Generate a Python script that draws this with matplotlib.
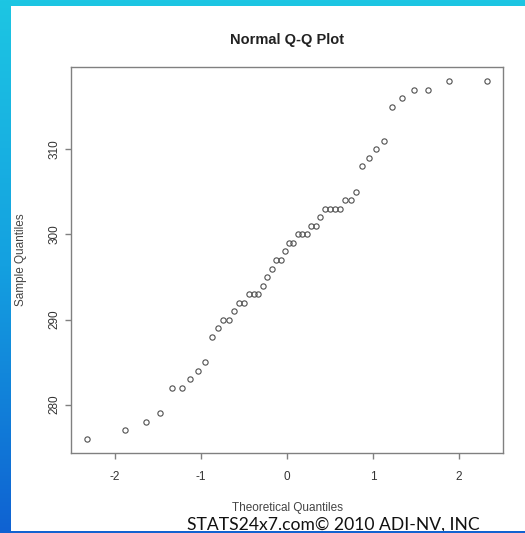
import numpy as np
import matplotlib.pyplot as plt
from matplotlib.colors import LinearSegmentedColormap
from matplotlib.patches import Rectangle
from statistics import NormalDist

# sorted sample values (n = 50)
sample = [276, 277, 278, 279, 282, 282, 283, 284, 285, 288,
          289, 290, 290, 291, 292, 292, 293, 293, 293, 294,
          295, 296, 297, 297, 298, 299, 299, 300, 300, 300,
          301, 301, 302, 303, 303, 303, 303, 304, 304, 305,
          308, 309, 310, 311, 315, 316, 317, 317, 318, 318]

x_ticks = [-2, -1, 0, 1, 2]
y_ticks = [280, 290, 300, 310]

W, H = 525, 533

# theoretical quantiles like R's qqnorm (ppoints with a = 0.5 for n > 10)
n = len(sample)
nd = NormalDist()
theo = [nd.inv_cdf((i + 0.5) / n) for i in range(n)]

fig = plt.figure(figsize=(W / 100, H / 100), dpi=100)

# ── slide background: blue gradient, white panel ──────────────────────────
bg = fig.add_axes([0, 0, 1, 1], zorder=-10)
cmap = LinearSegmentedColormap.from_list('slide', ['#1dc6e3', '#14a0e0', '#0f62d2'])
bg.imshow(np.linspace(0, 1, 256).reshape(-1, 1), aspect='auto', cmap=cmap,
          extent=[0, 1, 0, 1], origin='upper')
bg.add_patch(Rectangle((11 / W, 1 - 530.5 / H), (W - 11) / W, (530.5 - 6) / H,
                       facecolor='white', edgecolor='none'))
bg.set_xlim(0, 1)
bg.set_ylim(0, 1)
bg.axis('off')

# ── Q-Q plot ───────────────────────────────────────────────────────────────
ax = fig.add_axes([71 / W, 1 - 453 / H, 432 / W, 386 / H])
ax.plot(theo, sample, linestyle='none', marker='o', markersize=3.8,
        markerfacecolor='none', markeredgecolor='#505050', markeredgewidth=0.8)

span_x = theo[-1] - theo[0]
span_y = max(sample) - min(sample)
ax.set_xlim(theo[0] - 0.04 * span_x, theo[-1] + 0.04 * span_x)
ax.set_ylim(min(sample) - 0.04 * span_y, max(sample) + 0.04 * span_y)

ax.set_xticks(x_ticks)
ax.set_xticklabels([str(t) for t in x_ticks])
ax.set_yticks(y_ticks)
ax.set_yticklabels([str(t) for t in y_ticks], rotation=90, va='center')

for s in ax.spines.values():
    s.set_color('#808080')
    s.set_linewidth(1.0)
ax.tick_params(colors='#808080', labelcolor='#333333', labelsize=8.5, length=4.3,
               width=1.0)
ax.tick_params(axis='x', pad=9)
ax.tick_params(axis='y', pad=3)
for lab in ax.get_xticklabels() + ax.get_yticklabels():
    lab.set_family('Liberation Sans')

fig.text(287 / W, 1 - 40 / H, 'Normal Q-Q Plot', ha='center', va='center',
         fontsize=10.5, fontweight='bold', color='#222222', family='Liberation Sans')
fig.text(287 / W, 1 - 508 / H, 'Theoretical Quantiles', ha='center', va='center',
         fontsize=8.5, color='#444444', family='Liberation Sans')
fig.text(21 / W, 1 - 260 / H, 'Sample Quantiles', ha='center', va='center',
         rotation=90, fontsize=8.5, color='#444444', family='Liberation Sans')

# watermark at the bottom of the slide
fig.text(333 / W, 1 - 525 / H, 'STATS24x7.com© 2010 ADI-NV, INC', ha='center',
         va='center', fontsize=12.6, color='#111111', family='Lato', zorder=-5)

# bottom blue band drawn over the watermark
fig.patches.append(Rectangle((11 / W, 0), (W - 11) / W, 2.5 / H,
                             transform=fig.transFigure, facecolor='#1262d0',
                             edgecolor='none', zorder=10))

fig.savefig('out.png', dpi=100)
